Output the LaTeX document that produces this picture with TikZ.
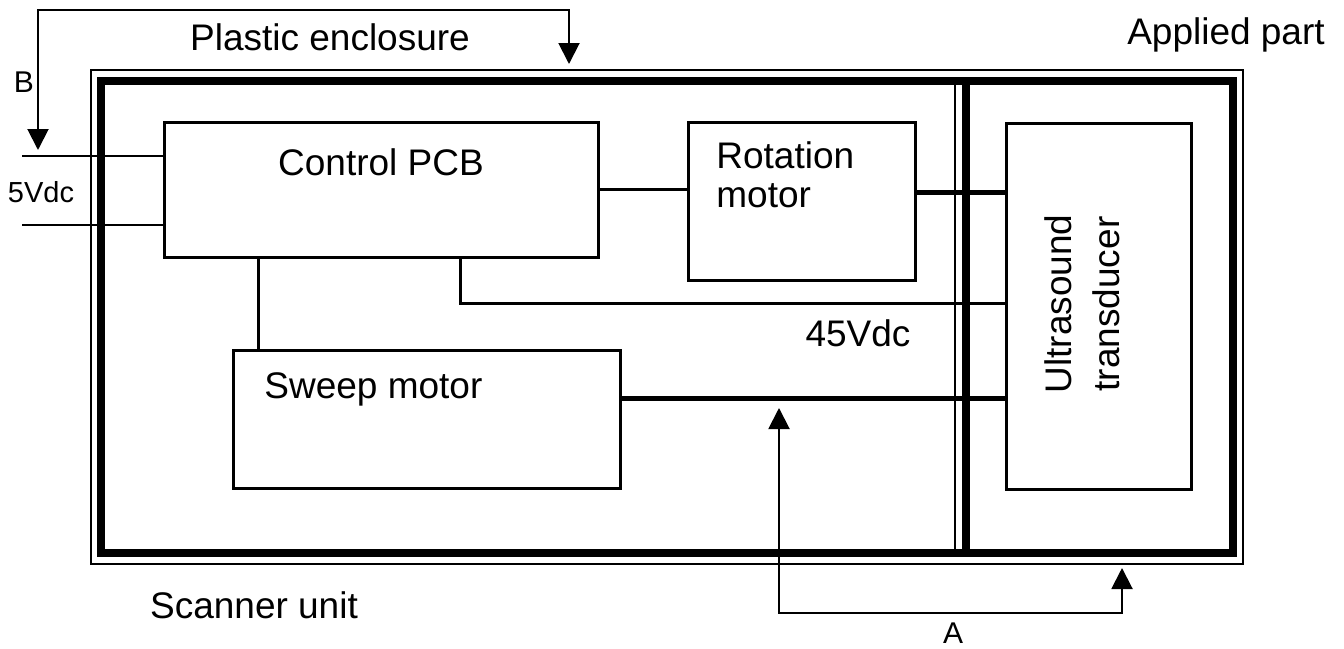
\documentclass[tikz,border=0pt]{standalone}
\usepackage{fontspec}
\setmainfont{Liberation Sans}
\usetikzlibrary{arrows.meta}
\begin{document}
\begin{tikzpicture}[x=0.5pt,y=-0.5pt,
  box/.style={draw, line width=1.5pt, inner sep=0pt},
  lbl/.style={font=\fontsize{18.5}{24}\selectfont, inner sep=0pt},
  smalllbl/.style={font=\fontsize{14.5}{17}\selectfont, inner sep=0pt},
  thinline/.style={line width=1pt},
  wire/.style={line width=1.5pt},
  buswire/.style={line width=2.5pt},
  dblptr/.style={line width=1pt, {Triangle[width=10.5pt,length=10.5pt]}-{Triangle[width=10.5pt,length=10.5pt]}},
]
\useasboundingbox[fill=white] (0,0) rectangle (1344,648);
% enclosure
\node[draw, line width=1.25pt, minimum width=576pt, minimum height=247pt, inner sep=0pt] (encl) at (667,317) {};
\node[draw, line width=4pt, minimum width=566pt, minimum height=236pt, inner sep=0pt] (scan) at (667,317) {};
\draw[line width=1.25pt] (955,81) -- (955,553);
\draw[line width=4pt] (966,81) -- (966,553);
% boxes
\node[box, minimum width=217pt, minimum height=67.5pt] (pcb) at (381,189.5) {};
\node[box, minimum width=113.5pt, minimum height=79pt] (rot) at (801.5,201) {};
\node[box, minimum width=193.5pt, minimum height=69pt] (sw) at (426.5,419) {};
\node[box, minimum width=92.5pt, minimum height=183pt] (tr) at (1098.5,306) {};
% texts
\node[lbl] (tpcb) at (381,162) {Control PCB};
\node[lbl, anchor=west] (trot1) at (716,155) {Rotation};
\node[lbl, anchor=west] (trot2) at (716,196) {motor};
\node[lbl, anchor=west] (tsw) at (264,389) {Sweep motor};
\node[lbl, rotate=90, align=center] (ttr) at (1082,304) {Ultrasound\\transducer};
\node[lbl] (tpe) at (330,37) {Plastic enclosure};
\node[lbl] (tap) at (1226,35) {Applied part};
\node[lbl] (tsu) at (254,605) {Scanner unit};
\node[lbl] (t45) at (858,333) {45Vdc};
\node[smalllbl] (t5) at (41,192) {5Vdc};
\node[smalllbl, font=\fontsize{15}{17}\selectfont] (tb) at (24,82) {B};
\node[smalllbl, font=\fontsize{15}{17}\selectfont] (ta) at (953,633) {A};
% supply lines
\coordinate (s1) at (22,156);
\coordinate (s2) at (22,225);
\draw[thinline] (s1) -- (s1 -| pcb.west);
\draw[thinline] (s2) -- (s2 -| pcb.west);
% wires
\draw[wire] (pcb.east) -- (pcb.east -| rot.west);
\draw[buswire] (rot.east |- 0,192) -- (tr.west |- 0,192);
\draw[wire] (pcb.south -| 460,0) |- (tr.west |- 0,303);
\draw[wire] (pcb.south -| 258,0) -- (sw.north -| 258,0);
\draw[buswire] (sw.east |- 0,398) -- (tr.west |- 0,398);
% pointers
\coordinate (b1) at (38,150);
\coordinate (bt) at (569,10);
\coordinate (b2) at (569,64);
\draw[dblptr] (b1) |- (bt) -- (b2);
\coordinate (a1) at (779,408);
\coordinate (at) at (1122,613);
\coordinate (a2) at (1122,568);
\draw[dblptr] (a1) |- (at) -- (a2);
\end{tikzpicture}
\end{document}
